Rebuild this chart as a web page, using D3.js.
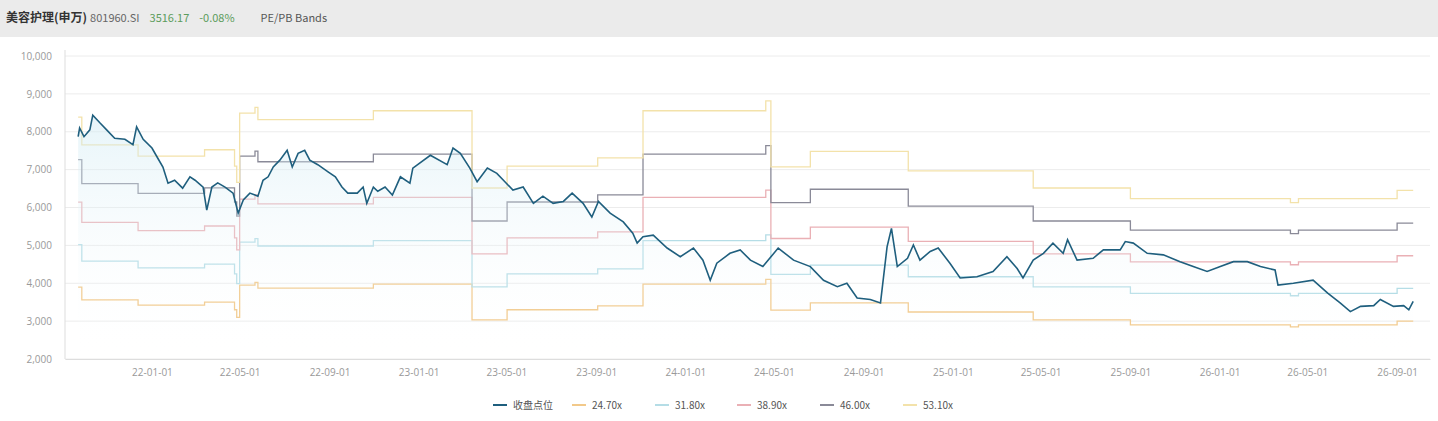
<!DOCTYPE html>
<html><head><meta charset="utf-8">
<script src="https://cdn.jsdelivr.net/npm/d3@7"></script>
<style>
body{margin:0;background:#fff;font-family:"Noto Sans CJK SC","Noto Sans",sans-serif;}
.axis text{fill:#999;font-size:10px;font-family:"Open Sans","Noto Sans",sans-serif;}
</style></head>
<body><svg id="chart" width="1438" height="421"></svg>
<script>
// close index (date, value)
var closeDates = ["2021-09-22","2021-09-24","2021-09-30","2021-10-08","2021-10-12","2021-10-22","2021-10-31","2021-11-11","2021-11-25","2021-12-06","2021-12-11","2021-12-20",
"2022-01-01","2022-01-09","2022-01-16","2022-01-23","2022-02-01","2022-02-12","2022-02-22","2022-03-01","2022-03-12","2022-03-17","2022-03-24","2022-04-01","2022-04-11","2022-04-22","2022-04-29","2022-05-06","2022-05-15","2022-05-26","2022-06-02","2022-06-09","2022-06-16","2022-06-25","2022-07-05","2022-07-12","2022-07-20","2022-07-29","2022-08-05","2022-08-16","2022-08-30","2022-09-09","2022-09-18","2022-09-26","2022-10-09","2022-10-17","2022-10-22","2022-10-31","2022-11-06","2022-11-16","2022-11-26","2022-12-07","2022-12-20","2022-12-24",
"2023-01-17","2023-02-09","2023-02-17","2023-02-27","2023-03-12","2023-03-22","2023-04-05","2023-04-18","2023-04-27","2023-05-10","2023-05-24","2023-06-07","2023-06-20","2023-07-04","2023-07-18","2023-07-30","2023-08-14","2023-08-26","2023-09-04","2023-09-20","2023-10-08","2023-10-21","2023-10-27","2023-11-04","2023-11-18","2023-12-07","2023-12-25",
"2024-01-12","2024-01-25","2024-02-04","2024-02-13","2024-03-02","2024-03-16","2024-03-30","2024-04-16","2024-05-07","2024-05-28","2024-06-20","2024-07-08","2024-07-27","2024-08-09","2024-08-23","2024-09-10","2024-09-24","2024-10-03","2024-10-09","2024-10-17","2024-10-31","2024-11-08","2024-11-17","2024-12-01","2024-12-12","2024-12-28",
"2025-01-11","2025-02-03","2025-02-25","2025-03-16","2025-03-30","2025-04-07","2025-04-21","2025-05-05","2025-05-18","2025-06-01","2025-06-07","2025-06-20","2025-07-12","2025-07-26","2025-08-18","2025-08-25","2025-09-05","2025-09-24","2025-10-16","2025-11-08","2025-11-26","2025-12-15",
"2026-01-02","2026-01-20","2026-02-08","2026-02-26","2026-03-18","2026-03-22","2026-04-12","2026-05-09","2026-05-29","2026-06-15","2026-06-29","2026-07-13","2026-07-31","2026-08-09","2026-08-27","2026-09-10","2026-09-17","2026-09-23"];
var closeValues = [7870,8100,7870,8050,8440,8230,8050,7830,7800,7660,8130,7800,
7570,7300,7070,6640,6720,6510,6810,6720,6540,5930,6540,6650,6540,6380,5850,6200,6380,6300,6720,6810,7070,7250,7510,7070,7430,7510,7250,7130,6940,6810,6540,6380,6380,6540,6110,6540,6430,6540,6330,6810,6640,7040,
7380,7130,7570,7430,7040,6680,7040,6900,6720,6460,6540,6110,6300,6110,6160,6380,6110,5750,6160,5850,5620,5320,5060,5230,5270,4930,4700,
4930,4610,4080,4530,4790,4880,4610,4440,4930,4610,4440,4080,3910,4000,3610,3570,3480,4960,5450,4440,4660,5010,4610,4840,4930,4530,
4140,4170,4310,4700,4390,4140,4610,4790,5060,4790,5150,4610,4660,4880,4880,5100,5060,4790,4750,4570,4440,4310,
4440,4570,4570,4440,4350,3950,4000,4080,3740,3480,3250,3390,3410,3570,3390,3410,3300,3520];

// earnings per share steps (index level / PE)
var epsDates = ["2021-09-22","2021-09-27","2021-12-13","2022-03-14","2022-04-24","2022-04-27","2022-05-01","2022-05-22","2022-05-26","2022-10-31","2023-03-15","2023-05-02","2023-09-03","2023-11-04","2024-04-20","2024-04-27","2024-06-20","2024-11-01","2025-04-21","2025-09-01","2026-04-08","2026-04-19","2026-09-01","2026-09-23"];
var epsValues = [157.9,144.1,138.5,141.7,133.6,125.5,159.9,162.8,156.7,161.1,122.7,133.6,137.7,161.1,166.0,133.2,140.9,131.2,122.7,117.4,115.4,117.4,121.5,121.5];

var peMultiples = [24.70, 31.80, 38.90, 46.00, 53.10];
var bandColors = ["#f2c98a", "#b5dde6", "#eab0b5", "#8a8a98", "#f3e2aa"];
var closeColor = "#1f5f7e";
var yTicks = [2000,3000,4000,5000,6000,7000,8000,9000,10000];
var xTickLabels = ["22-01-01","22-05-01","22-09-01","23-01-01","23-05-01","23-09-01","24-01-01","24-05-01","24-09-01","25-01-01","25-05-01","25-09-01","26-01-01","26-05-01","26-09-01"];

var parse = d3.timeParse("%Y-%m-%d");
var parseTick = d3.timeParse("%y-%m-%d");
var svg = d3.select("#chart");
var W = 1438, H = 421;
var margin = {top: 56, left: 65, right: 8, bottom: 62};

// header bar
svg.append("rect").attr("width", W).attr("height", 37).attr("fill", "#ebebeb");
var head = svg.append("text").attr("x", 6).attr("y", 22).style("font-size", "12px");
head.append("tspan").attr("font-weight", "bold").attr("fill", "#333").text("美容护理(申万)");
head.append("tspan").attr("dx", 3).attr("fill", "#666").style("font-size", "11px").text("801960.SI");
head.append("tspan").attr("dx", 10).attr("fill", "#5c9c5c").style("font-size", "11px").text("3516.17");
head.append("tspan").attr("dx", 10).attr("fill", "#5c9c5c").style("font-size", "11px").text("-0.08%");
head.append("tspan").attr("dx", 26).attr("fill", "#555").style("font-size", "11px").text("PE/PB Bands");

var x = d3.scaleTime()
	.domain([parse("2021-09-04"), parse("2026-10-16")])
	.range([margin.left, W - margin.right]);
var y = d3.scaleLinear().domain([2000, 10000]).range([H - margin.bottom, margin.top]);

// grid
svg.append("g").selectAll("line").data(yTicks).join("line")
	.attr("x1", margin.left).attr("x2", W - margin.right)
	.attr("y1", function(d){ return y(d); }).attr("y2", function(d){ return y(d); })
	.attr("stroke", "#ececec");
svg.append("line").attr("x1", margin.left).attr("x2", margin.left)
	.attr("y1", margin.top - 6).attr("y2", H - margin.bottom).attr("stroke", "#ddd");

var yAxis = svg.append("g").attr("class", "axis")
	.attr("transform", "translate(" + (margin.left - 10) + ",0)")
	.call(d3.axisLeft(y).tickValues(yTicks).tickSize(0).tickFormat(d3.format(",")));
yAxis.select(".domain").remove();

var xAxis = svg.append("g").attr("class", "axis")
	.attr("transform", "translate(0," + (H - margin.bottom) + ")")
	.call(d3.axisBottom(x).tickValues(xTickLabels.map(parseTick)).tickSize(0).tickPadding(10).tickFormat(d3.timeFormat("%y-%m-%d")));
xAxis.select(".domain").attr("stroke", "#ddd");

// bands
var epsData = epsDates.map(function(d, i){ return {date: parse(d), eps: epsValues[i]}; });
peMultiples.forEach(function(m, k){
	var line = d3.line().curve(d3.curveStepAfter)
		.x(function(d){ return x(d.date); })
		.y(function(d){ return y(d.eps * m); });
	svg.append("path").datum(epsData).attr("d", line)
		.attr("fill", "none").attr("stroke", bandColors[k]).attr("stroke-width", 1.3);
});

// close
var closeData = closeDates.map(function(d, i){ return {date: parse(d), v: closeValues[i]}; });
var grad = svg.append("defs").append("linearGradient").attr("id", "g1").attr("x1", 0).attr("x2", 0).attr("y1", 0).attr("y2", 1);
grad.append("stop").attr("offset", "0%").attr("stop-color", "#cfeaf3").attr("stop-opacity", 0.5);
grad.append("stop").attr("offset", "100%").attr("stop-color", "#ffffff").attr("stop-opacity", 0);
svg.append("path").datum(closeData)
	.attr("d", d3.area().x(function(d){ return x(d.date); }).y0(H - margin.bottom).y1(function(d){ return y(d.v); }))
	.attr("fill", "url(#g1)");
svg.append("path").datum(closeData)
	.attr("d", d3.line().x(function(d){ return x(d.date); }).y(function(d){ return y(d.v); }))
	.attr("fill", "none").attr("stroke", closeColor).attr("stroke-width", 1.6);

// legend
var legendNames = ["收盘点位"].concat(peMultiples.map(function(m){ return m.toFixed(2) + "x"; }));
var legendColors = [closeColor].concat(bandColors);
var legendX = [493, 572, 655, 737, 820, 903];
var lg = svg.append("g");
legendNames.forEach(function(n, i){
	lg.append("line").attr("x1", legendX[i]).attr("x2", legendX[i] + 14)
		.attr("y1", 405).attr("y2", 405).attr("stroke", legendColors[i]).attr("stroke-width", 2);
	lg.append("text").attr("x", legendX[i] + 20).attr("y", 409)
		.style("font-size", "10px").attr("fill", "#555").text(n);
});
</script></body></html>
